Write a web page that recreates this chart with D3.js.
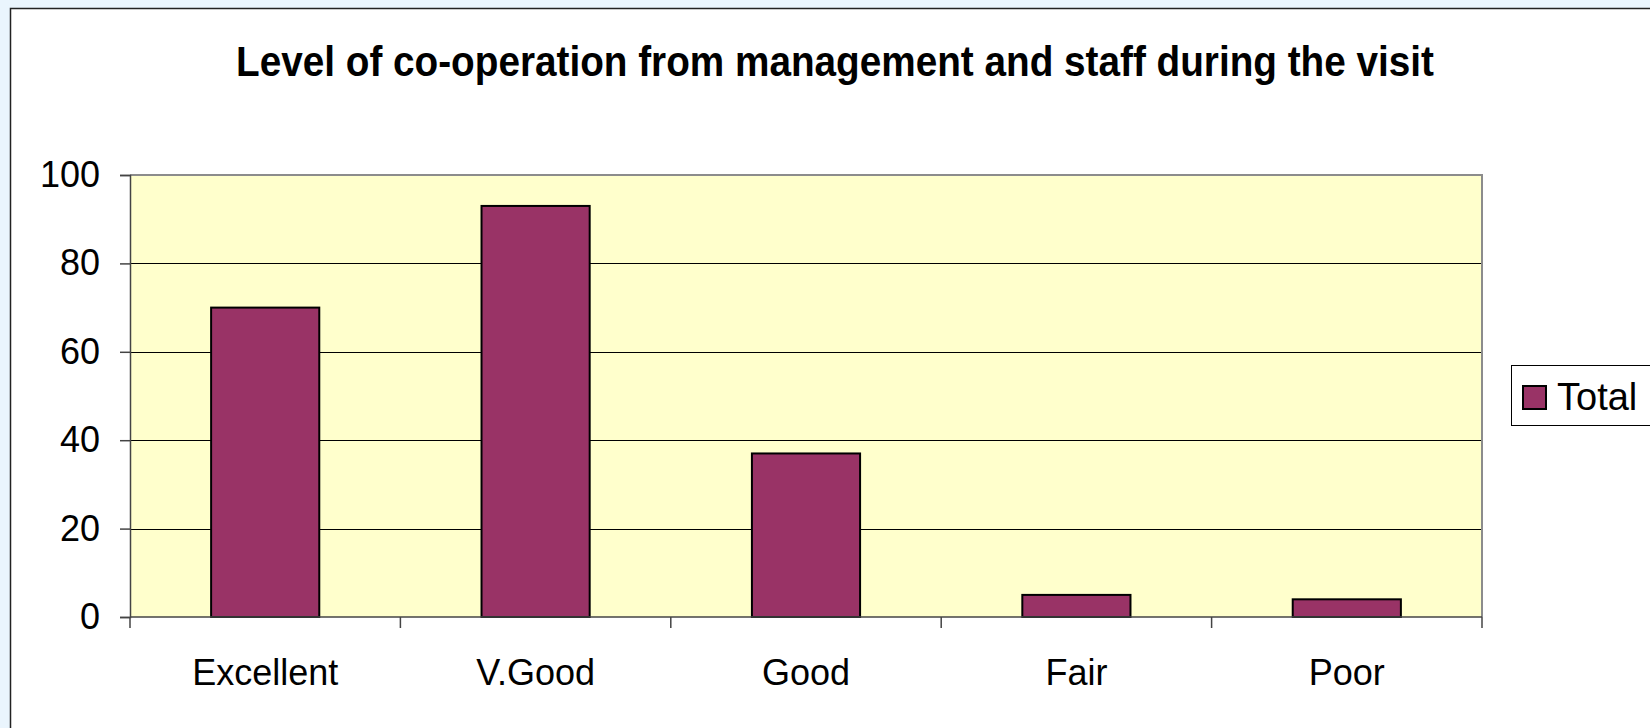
<!DOCTYPE html>
<html>
<head>
<meta charset="utf-8">
<script src="https://cdn.jsdelivr.net/npm/d3@7"></script>
<style>
  html, body { margin: 0; padding: 0; background: #eaf5fd; overflow: hidden; }
  text { font-family: "Liberation Sans", Arial, sans-serif; }
</style>
</head>
<body>
<div id="vis"></div>
<script>
// chart data
const categories = ['Excellent', 'V.Good', 'Good', 'Fair', 'Poor']
const totals = [70, 93, 37, 5, 4]
const yTicks = [0, 20, 40, 60, 80, 100]
const seriesName = 'Total'
const titleText = 'Level of co-operation from management and staff during the visit'

const W = 1650, H = 728
const plot = {left: 130, right: 1482, top: 175, bottom: 617}

const svg = d3.select('#vis')
  .append('svg')
  .attr('width', W)
  .attr('height', H)

// chart frame
svg.append('rect')
  .attr('x', 10.5).attr('y', 8.5)
  .attr('width', W).attr('height', H)
  .attr('fill', '#fff')
  .attr('stroke', '#222')
  .attr('stroke-width', 1.5)

// title
svg.append('text')
  .attr('x', 835)
  .attr('y', 76)
  .attr('text-anchor', 'middle')
  .attr('font-size', 42)
  .attr('font-weight', 700)
  .attr('textLength', 1198)
  .attr('lengthAdjust', 'spacingAndGlyphs')
  .text(titleText)

const x = d3.scaleBand()
  .domain(categories)
  .range([plot.left, plot.right])
  .paddingInner(0.6)
  .paddingOuter(0.3)

const y = d3.scaleLinear()
  .domain([0, 100])
  .range([plot.bottom, plot.top])

// plot background
svg.append('rect')
  .attr('x', plot.left).attr('y', plot.top)
  .attr('width', plot.right - plot.left)
  .attr('height', plot.bottom - plot.top)
  .attr('fill', '#ffffcc')

// gridlines
svg.append('g')
  .selectAll('line')
  .data(yTicks.filter(d => d > 0 && d < 100))
  .enter()
  .append('line')
  .attr('x1', plot.left).attr('x2', plot.right)
  .attr('y1', d => Math.round(y(d)) + 0.5)
  .attr('y2', d => Math.round(y(d)) + 0.5)
  .attr('stroke', '#000')
  .attr('stroke-width', 1)

// plot border (top / right)
svg.append('path')
  .attr('d', `M${plot.left},${plot.top}H${plot.right}V${plot.bottom}`)
  .attr('fill', 'none')
  .attr('stroke', '#8c8c8c')
  .attr('stroke-width', 2)

// bars
svg.append('g')
  .selectAll('rect')
  .data(totals)
  .enter()
  .append('rect')
  .attr('x', (d, i) => x(categories[i]))
  .attr('y', d => y(d))
  .attr('width', x.bandwidth())
  .attr('height', d => y(0) - y(d))
  .attr('fill', '#993366')
  .attr('stroke', '#000')
  .attr('stroke-width', 2)

// y axis
const yAxis = d3.axisLeft(y)
  .tickValues(yTicks)
  .tickSize(10)
  .tickPadding(20)
svg.append('g')
  .attr('transform', `translate(${plot.left},0)`)
  .call(yAxis)
  .call(g => g.selectAll('.domain').attr('stroke', '#444').attr('stroke-width', 1.5))
  .call(g => g.selectAll('.tick line').attr('stroke', '#444').attr('stroke-width', 1.5))
  .call(g => g.selectAll('.tick text')
    .attr('font-size', 36)
    .attr('fill', '#000')
    .attr('font-family', '"Liberation Sans", Arial, sans-serif'))

// x axis: ticks at band edges
const xAxisG = svg.append('g')
  .attr('transform', `translate(0,${plot.bottom})`)
xAxisG.append('line')
  .attr('x1', plot.left).attr('x2', plot.right)
  .attr('stroke', '#444').attr('stroke-width', 1.5)
const edges = categories.map(c => x(c) - x.step() * x.paddingInner() / 2)
edges.push(plot.right)
edges[0] = plot.left
xAxisG.selectAll('.edge')
  .data(edges)
  .enter()
  .append('line')
  .attr('class', 'edge')
  .attr('x1', d => d).attr('x2', d => d)
  .attr('y1', 0).attr('y2', 11)
  .attr('stroke', '#444').attr('stroke-width', 1.5)
xAxisG.selectAll('.cat')
  .data(categories)
  .enter()
  .append('text')
  .attr('class', 'cat')
  .attr('x', d => x(d) + x.bandwidth() / 2)
  .attr('y', 68)
  .attr('text-anchor', 'middle')
  .attr('font-size', 36)
  .text(d => d)

// legend
const legend = svg.append('g')
  .attr('transform', 'translate(1511,365)')
legend.append('rect')
  .attr('x', 0.5).attr('y', 0.5)
  .attr('width', 160).attr('height', 60)
  .attr('fill', '#fff')
  .attr('stroke', '#000')
  .attr('stroke-width', 1)
legend.append('rect')
  .attr('x', 12).attr('y', 21)
  .attr('width', 23).attr('height', 23)
  .attr('fill', '#993366')
  .attr('stroke', '#000')
  .attr('stroke-width', 2)
legend.append('text')
  .attr('x', 46).attr('y', 45)
  .attr('font-size', 38)
  .text(seriesName)
</script>
</body>
</html>
